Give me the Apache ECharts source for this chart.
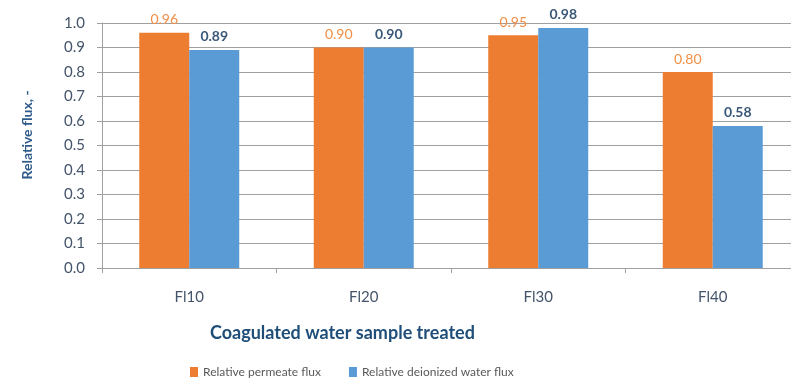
<!DOCTYPE html>
<html>
<head>
<meta charset="utf-8">
<script src="https://cdn.jsdelivr.net/npm/echarts@6/dist/echarts.min.js"></script>
<style>
  html, body { margin: 0; padding: 0; background: #fff; overflow: hidden; }
  /* plot area runs slightly past the right edge of the window */
  #chart { width: 815px; height: 383px; }
</style>
</head>
<body>
<div id="chart"></div>
<script>
// Samples and relative flux values
const categories = ['Fl10', 'Fl20', 'Fl30', 'Fl40'];
const permeateFlux = [0.96, 0.90, 0.95, 0.80];
const deionizedFlux = [0.89, 0.90, 0.98, 0.58];
const yTicks = ['0.0', '0.1', '0.2', '0.3', '0.4', '0.5', '0.6', '0.7', '0.8', '0.9', '1.0'];

const FONT = 'Lato, "Open Sans", sans-serif';
const chart = echarts.init(document.getElementById('chart'));

chart.setOption({
  animation: false,
  textStyle: { fontFamily: FONT },
  grid: { left: 102, top: 23, width: 698, height: 245, containLabel: false },
  xAxis: {
    type: 'category',
    data: categories,
    axisLine: { lineStyle: { color: '#a0a0a0', width: 1 } },
    axisTick: { show: true, length: 5, lineStyle: { color: '#a0a0a0' } },
    axisLabel: { color: '#44546a', fontSize: 15, margin: 22, fontFamily: FONT }
  },
  yAxis: {
    type: 'value',
    min: 0,
    max: 1,
    interval: 0.1,
    axisLine: { show: true, lineStyle: { color: '#a0a0a0' } },
    axisTick: { show: true, length: 5, lineStyle: { color: '#a0a0a0' } },
    splitLine: { lineStyle: { color: '#a0a0a0', width: 1 } },
    axisLabel: {
      color: '#44546a', fontSize: 15, margin: 17, fontFamily: FONT,
      formatter: (v) => yTicks[Math.round(v * 10)]
    }
  },
  legend: {
    bottom: 0,
    left: 185,
    itemWidth: 8,
    itemHeight: 10,
    itemGap: 28,
    icon: 'rect',
    textStyle: { color: '#595959', fontSize: 12, fontFamily: FONT },
    data: ['Relative permeate flux', 'Relative deionized water flux']
  },
  graphic: [
    {
      type: 'text',
      left: 210,
      top: 324,
      style: {
        text: 'Coagulated water sample treated',
        fill: '#1f4e79',
        font: 'bold 18px ' + FONT
      }
    },
    {
      type: 'text',
      x: 27,
      y: 135,
      rotation: Math.PI / 2,
      style: {
        text: 'Relative flux, -',
        fill: '#2f5b8a',
        font: 'bold 14px ' + FONT,
        align: 'center',
        verticalAlign: 'middle'
      }
    }
  ],
  series: [
    {
      name: 'Relative permeate flux',
      type: 'bar',
      data: permeateFlux,
      barGap: '0%',
      barCategoryGap: '42.7%',
      itemStyle: { color: '#ed7d31' },
      label: {
        show: true, position: 'top', distance: 6,
        color: '#f28e45', fontSize: 14, fontFamily: FONT,
        formatter: (p) => p.value.toFixed(2)
      }
    },
    {
      name: 'Relative deionized water flux',
      type: 'bar',
      data: deionizedFlux,
      itemStyle: { color: '#5b9bd5' },
      label: {
        show: true, position: 'top', distance: 6,
        color: '#3a5878', fontSize: 14, fontWeight: 'bold', fontFamily: FONT,
        formatter: (p) => p.value.toFixed(2)
      }
    }
  ]
});
</script>
</body>
</html>
